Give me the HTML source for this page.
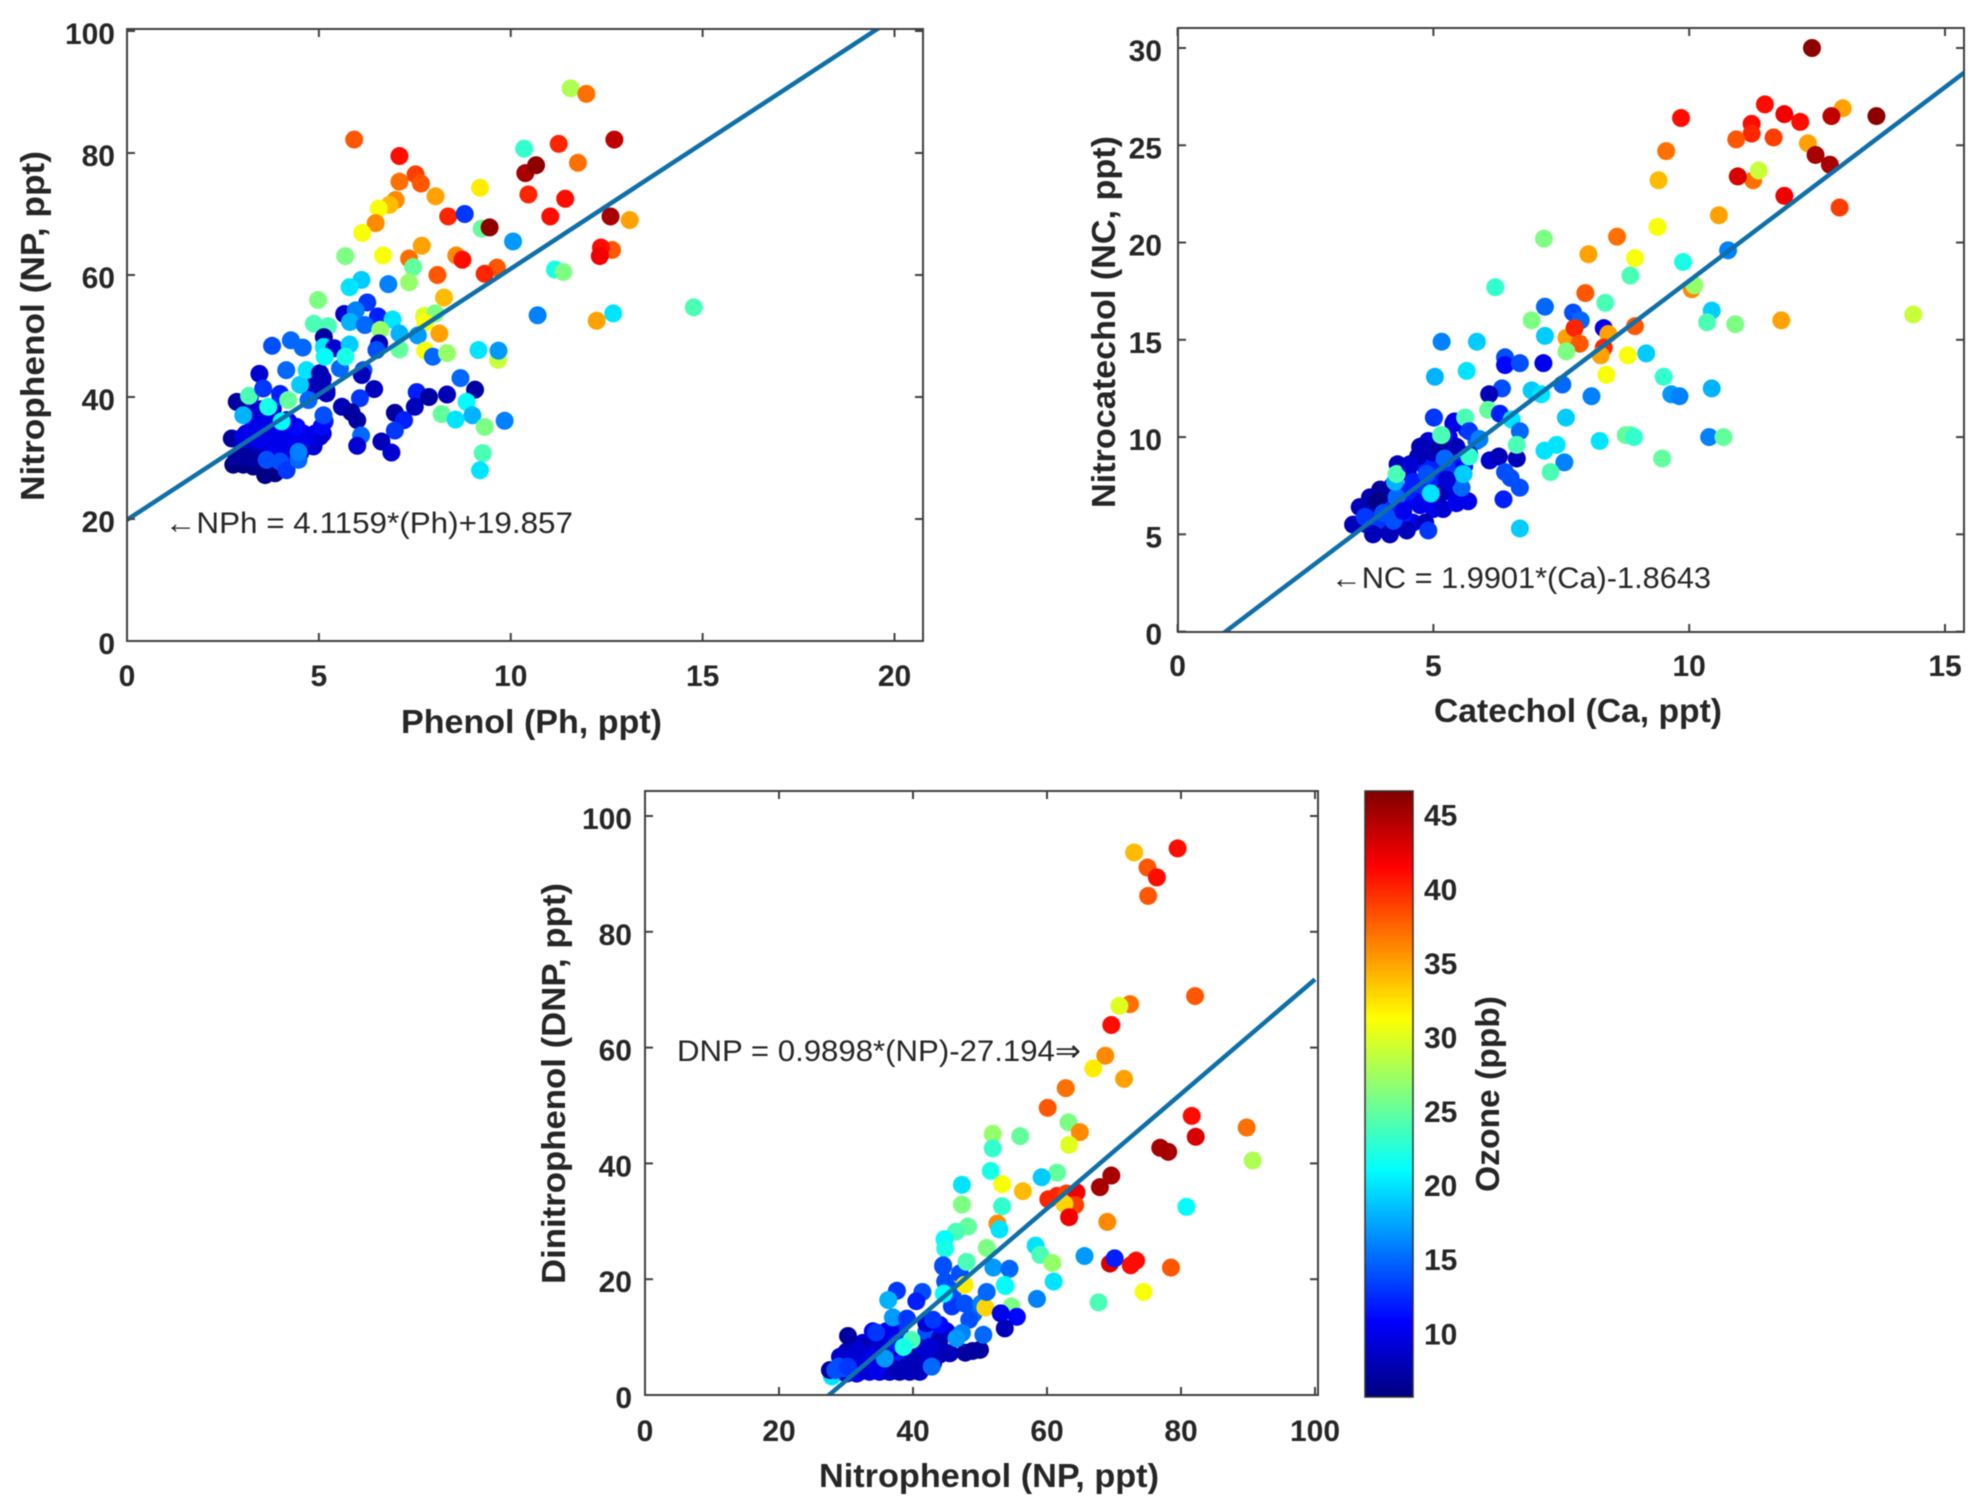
<!DOCTYPE html>
<html lang="en">
<head>
<meta charset="utf-8">
<title>Nitroaromatic scatter plots coloured by ozone</title>
<style>
html,body{margin:0;padding:0;background:#fff;width:1976px;height:1496px;overflow:hidden}
svg{display:block;font-family:"Liberation Sans",Arial,sans-serif;filter:blur(0.5px)}
.title{font-weight:bold;font-size:33px;fill:#262626}
.note{font-size:30px;fill:#262626}
</style>
</head>
<body>
<svg id="figure" xmlns="http://www.w3.org/2000/svg" width="1976" height="1496" viewBox="0 0 1976 1496">
  <rect width="1976" height="1496" fill="#fff"/>
  <defs>
    <linearGradient id="jetGrad" x1="0" y1="1" x2="0" y2="0"></linearGradient>
    <clipPath id="clip1"><rect x="127" y="29" width="796" height="612"/></clipPath>
    <clipPath id="clip2"><rect x="1178" y="28" width="786" height="604"/></clipPath>
    <clipPath id="clip3"><rect x="645" y="791" width="673" height="604"/></clipPath>
  </defs>
  <g id="panel1"></g>
  <g id="panel2"></g>
  <g id="panel3"></g>
  <g id="colorbar"></g>

  <text class="title" x="401" y="733" textLength="261" lengthAdjust="spacingAndGlyphs">Phenol (Ph, ppt)</text>
  <text class="title" transform="translate(44,501) rotate(-90)" textLength="350" lengthAdjust="spacingAndGlyphs">Nitrophenol  (NP, ppt)</text>
  <text class="note" x="165" y="533" textLength="408" lengthAdjust="spacingAndGlyphs">←NPh = 4.1159*(Ph)+19.857</text>

  <text class="title" x="1434" y="722" textLength="288" lengthAdjust="spacingAndGlyphs">Catechol (Ca, ppt)</text>
  <text class="title" transform="translate(1115,508) rotate(-90)" textLength="372" lengthAdjust="spacingAndGlyphs">Nitrocatechol  (NC, ppt)</text>
  <text class="note" x="1331" y="588" textLength="380" lengthAdjust="spacingAndGlyphs">←NC = 1.9901*(Ca)-1.8643</text>

  <text class="title" x="819" y="1487" textLength="340" lengthAdjust="spacingAndGlyphs">Nitrophenol (NP, ppt)</text>
  <text class="title" transform="translate(565,1284) rotate(-90)" textLength="401" lengthAdjust="spacingAndGlyphs">Dinitrophenol  (DNP, ppt)</text>
  <text class="note" x="677" y="1061" textLength="404" lengthAdjust="spacingAndGlyphs">DNP = 0.9898*(NP)-27.194⇒</text>

  <text class="title" transform="translate(1499,1192) rotate(-90)" textLength="196" lengthAdjust="spacingAndGlyphs">Ozone (ppb)</text>
</svg>
<script>
// ---------- Panel 1: phenol vs nitrophenol ----------
const p1Phenol = [
3.1,3.4,3.7,4.0,4.3,4.6,4.9,5.1,
3.0,3.3,3.6,3.9,4.2,4.5,4.8,
2.95,3.25,3.55,3.85,4.15,
3.3,3.6,3.9,4.2,5.15,
3.2,3.5,3.8,
4.9,5.2,4.8,5.1,
3.2,4.0,
2.73,2.77,3.03,3.29,3.6,3.86,2.86,3.12,3.38,3.64,
2.86,3.45,3.38,3.03,3.29,3.47,3.73,3.99,4.25,4.51,
4.86,5.03,5.07,5.12,4.68,4.42,3.64,3.9,4.16,3.81,
4.16,4.51,3.64,3.99,4.16,4.47,4.47,3.03,3.18,3.68,
4.03,3.55,3.99,4.2,4.51,4.68,5.03,4.99,4.73,5.2,
5.55,6.16,6.12,
5.92,7.1,11.56,11.97,12.7,10.35,11.25,11.75,10.38,10.66,
7.52,7.1,7.66,9.2,8.04,10.46,11.42,7,6.84,6.56,
11.03,8.37,8.8,12.6,13.1,9.24,9.45,6.48,6.13,10.06,
7.68,6.67,5.69,7.35,8.58,8.74,12.64,12.35,12.32,9.64,
9.32,8.09,7.46,7.35,11.15,11.37,6.81,6.11,5.8,4.98,
8.26,6.26,5.66,6.54,5.96,10.7,12.24,12.67,14.77,4.87,
5.24,5.81,6.2,6.92,7.74,8.03,7.77,6.6,7.1,7.58,
8.14,6.57,3.78,4.27,4.58,5.13,5.13,5.4,5.8,6.5,
7.1,7.77,7.97,8.34,9.16,9.67,9.68,5.15,5.69,4.15,
6.44,7.55,7.87,8.34,8.69,9.07,6.07,5.6,5.85,6,
6.98,7.5,8.85,8.2,9,8.56,9.84,7.22,6.98,9.32,
6.1,6,6.63,6.89,9.27,9.2
];
const p1Nitrophenol = [
34,34,34,34,34,34,34,34,
32,32,32,32,32,32,32,
30,30,30,30,30,
36,36,36,36,36,
38,38,38,
41,41,43,43,
40,40,
33.2,28.9,28.9,28.6,27.2,27.5,30.2,30.2,29.7,28.3,
39.2,43.8,37,33.5,35.1,33,32.4,32.4,33,32.4,
31.9,33.5,35.1,37,33.5,35.1,35.7,35.7,36.2,31.3,
30.8,30.8,29.7,29.4,28,29.7,31,37,40.2,38.4,
36,41.4,40.5,39.5,42,44.4,43.9,42.2,39.5,40.6,
44.7,44.4,43.6,
82.2,79.5,90.6,89.7,82.2,80.7,81.5,78.4,76.7,78,
76.5,75.3,75,74.3,72.9,73.2,72.5,72.3,71.5,70.9,
69.6,69.6,70,69.6,69,67.6,67.8,68.5,66.9,65.5,
64.8,63.2,63.1,62.7,63.2,62.5,64.1,64.5,63.1,61.2,
60.2,60,61.3,58.8,60.9,60.5,58.5,59.2,58,55.9,
56.3,55.5,53.6,53.2,54.2,53.4,52.5,53.7,54.7,52,
51.6,52.3,51.8,52.7,53.3,53.7,52.2,51,50.4,50.1,
50.4,48.8,48.4,49.3,48.1,49.8,48.2,48,48.6,47.7,
47.8,47.6,46.6,47.2,47.7,46.1,47.6,46.6,46.6,44.4,
41.3,40.8,40,40.4,43.1,41.2,39.8,38.4,37.5,36.2,
37.4,38.4,39.2,37.2,37,36.3,36.1,36.2,34.5,35.1,
33.7,32,32.7,30.9,30.8,28
];
const p1Ozone = [
10,10,9,10,10,11,10,9,
8,9,9,10,10,10,9,
7,7,8,10,11,
9,10,10,10,12,
8,9,10,
8,8,8,8,
10,13,
7,6,6,6,6,6,7,7,7,6,
7,9,9,10,10,10,10,10,10,10,
9,9,11,14,10,11,10,10,10,10,
10,10,14,14,13,15,16,18,24,22,
21,13,12,25,19,20,8,8,15,8,
15,14,8,
38,41,28,37,44,23,40,37,45,46,
39,37,38,32,35,40,41,36,34,31,
41,40,13,45,35,25,46,36,31,17,
35,31,26,37,36,41,38,41,42,38,
40,38,25,27,22,26,16,19,20,26,
34,13,9,12,16,16,35,20,24,24,
24,18,15,20,30,26,31,27,18,17,
35,8,14,15,15,7,20,9,19,14,
25,31,15,27,20,29,17,21,22,15,
8,12,7,8,15,7,13,8,7,7,
7,8,21,25,18,20,16,12,13,26,
15,9,8,9,24,20
];
const p1XTicks = [0,5,10,15,20];
const p1YTicks = [0,20,40,60,80,100];
const p1FitSlope = 4.1159;
const p1FitIntercept = 19.857;

// ---------- Panel 2: catechol vs nitrocatechol ----------
const p2Catechol = [
3.7,4,4.3,4.6,3.8,4.1,4.4,4.7,5,5.3,
4,4.2,4.5,4.8,5.1,5.4,4.5,4.8,5,5.3,
4.7,5,5.3,5.5,4.9,5.3,4.4,3.9,4.2,5,
5.5,4.3,5.6,
3.43,3.56,3.76,3.96,3.89,3.82,4.15,4.48,4.22,4.02,
3.66,4.28,4.25,4.28,4.54,4.74,4.61,4.87,5.23,5.19,
5.45,5.68,5.55,5.58,4.95,4.74,4.41,5.13,5.26,5.13,
5.45,5.84,5.7,5.65,5.39,5.62,5.16,5.01,4.84,4.9,
12.4,13.66,13,12.78,11.48,11.86,12.17,11.22,11.22,9.84,
11.65,10.92,12.32,9.55,12.47,12.75,11.25,11.36,10.95,9.4,
11.86,12.94,10.58,9.38,7.16,8.59,8.03,8.94,10.76,9.88,
8.85,10.05,10.1,6.21,7.97,8.36,7.18,6.92,7.73,7.88,
10.44,10.35,10.9,11.8,14.38,8.33,7.6,7.76,7.86,8.94,
8.42,7.18,5.16,5.85,8.33,8.27,7.6,8.8,9.16,6.4,
6.4,6.69,7.15,5.65,5.03,8.38,9.5,7.52,9.65,9.81,
10.44,6.92,7.11,6.34,6.09,8.09,6.07,5.01,5.41,5.62,
6.3,6.53,7.59,5.7,6.69,5.15,5.9,8.76,8.85,8.92,
10.39,10.67,8.25,7.41,7.17,6.63,6.63,4.76,9.47,7.56,
7.29,6.1,6.28,5.7,5.22,5.59,6.4,6.51,6.69,6.37,
4.95,6.69
];
const p2Nitrocatechol = [
5.5,5.4,5.5,5.6,6,6.4,6.5,6.9,6.9,7.2,
7,7.5,7.2,7.5,7.8,8,8.2,8.6,8.3,8.5,
9,9.2,9.3,9,9.8,10,6,5.7,6.3,6.3,
7,8.6,8.5,
5.5,6.4,6.9,7.3,6.7,5,5,5.2,5.7,6.1,
5.9,6.9,7.7,8.1,8.6,9.5,7.7,8.1,8.9,6.3,
6.6,6.7,7.4,8.1,7.1,6.5,6.2,7.1,7.8,9.5,
9.5,9.8,9.1,10.4,10.7,11,10.1,11,5.6,5.2,
30,26.5,26.9,26.5,27.1,26.6,26.2,26.1,25.6,26.4,
25.4,25.3,25.1,24.7,24.5,24,23.2,23.7,23.4,23.2,
22.4,21.8,21.4,20.8,20.2,20.3,19.4,19.2,19.6,19,
18.3,17.6,17.8,17.7,17.4,16.9,16.7,16,16.4,16,
16.5,15.9,15.8,16,16.3,15.6,15.1,15.6,14.8,15.7,
15.3,15.2,14.9,14.9,14.6,14.2,14.4,14.2,14.3,14.1,
13.7,13.8,13.8,13.4,13.1,13.2,13.1,12.7,12.2,12.1,
12.5,12.4,12.2,12.5,12.2,12.1,11.4,11,10.8,11,
11.2,10.9,11,10.3,10.3,10.1,9.9,10.1,10.1,10,
10,10,9.8,9.6,9.3,8.9,9.6,9.5,8.9,8.7,
8.2,8.8,9,9,8.9,8.1,8.2,7.9,7.4,6.8,
7.1,5.3
];
const p2Ozone = [
9,9,10,10,9,10,11,11,10,10,
7,9,12,13,12,9,9,12,12,13,
8,8,9,12,9,10,12,13,13,10,
9,8,11,
8,8,8,7,6,8,8,8,14,14,
13,15,18,24,9,7,12,14,14,9,
10,10,15,20,22,10,10,8,9,7,
8,15,9,12,9,24,24,14,8,13,
46,46,35,44,41,42,41,41,40,41,
39,38,35,37,45,45,37,29,43,34,
42,39,35,31,26,37,35,31,16,22,
24,36,27,23,38,24,15,26,14,15,
19,24,26,35,29,10,35,40,38,38,
35,19,16,19,40,35,26,31,19,14,
11,14,10,20,18,31,23,15,17,16,
18,19,20,14,8,16,25,13,10,24,
12,20,19,13,15,24,16,25,25,23,
16,25,20,20,20,8,24,8,25,16,
24,9,8,23,15,19,14,14,14,12,
20,19
];
const p2XTicks = [0,5,10,15];
const p2YTicks = [0,5,10,15,20,25,30];
const p2FitSlope = 1.9901;
const p2FitIntercept = -1.8643;

// ---------- Panel 3: nitrophenol vs dinitrophenol ----------
const p3Nitrophenol = [
29,30,32,33.5,35,36.5,38,39.5,41,
29.5,31,32.5,34,35.5,37,38.5,40,41.5,43,
31,32.5,34,36,38,40,42,44,
32.5,34,37,39,41,43,
34,36,38,42,45,
46,47,49,
28.5,29.5,
27.9,50,48.9,47.8,45.5,44,44,42.5,41,40,
39,37.6,40.6,36.6,33.1,32.1,30.1,29.1,27.6,30.1,
31.6,33.1,34.6,35,36.6,35,36.6,37.6,33.6,31.6,
28.9,29.6,28.4,30.3,42,44,43,35.8,42.8,39.8,
38.6,30.3,34.5,37,39.1,37.6,36.3,41.4,40.5,44.5,
44.8,45.8,44.6,47.7,50.2,50.8,51,53.8,54.7,53.1,
55.5,53.7,58.5,48.4,47.3,46.5,50.5,
79.5,73,75,76.4,75.1,82.1,72.4,70.8,69.6,68.7,
66.9,71.5,62.8,60.1,81.6,63.2,64.9,89.8,82.2,51.9,
56,51.9,63.3,76.9,78.1,90.7,51.6,61.5,59.2,69.6,
67.9,47.3,53.3,56.4,60.2,61.5,62.9,64.4,64.2,62.6,
63.3,47.3,53.3,80.8,69,52.6,52.9,48.2,46.4,44.7,
44.8,51,58.3,59,60.8,65.6,69.4,70.1,72.5,73.3,
78.5,74.4,67.7,61,47.7,52,54.4,53.7,44.5,48
];
const p3Dinitrophenol = [
4,4,4,4,4,4,4,4,4,
5.5,5.5,5.5,5.5,5.5,5.5,5.5,5.5,5.5,5.5,
7,7,7,7,7,7,7,7,
9,9,9,9,9,9,
11,11,11,11,11,
18,21,14,
4.5,5.5,
3.2,7.8,7.6,7.3,7.2,8.3,9.8,8.3,7.2,6,
4.9,4.3,4.3,4.9,8.3,6.6,7.5,6.6,4.3,3.7,
3.7,4.3,4.3,6,7.8,8.9,11.2,8.9,6.6,7.8,
4.9,4.6,4.3,4.9,12.4,12.1,13,6.3,4.9,9.5,
8.3,10.2,10.8,13.4,13.2,18,16.4,17.8,16.2,22.2,
19.6,15.3,17.5,15.8,15.8,15.1,17.8,18.8,15.3,14.1,
13.5,11.5,16.6,13,10.7,9.8,10.4,
94.4,93.7,91.1,89.4,86.2,68.9,67.5,67.2,63.9,58.6,
56.4,54.6,53,49.6,48.2,47.1,45.4,46.2,44.6,45.1,
44.7,42.6,43.2,42.7,42,40.5,38.7,38.4,37.6,37.9,
35.9,36.3,36.4,35.2,33.8,34.4,34.8,35,32.8,33,
30.7,32.9,32.6,32.5,29.9,29.6,28.6,29.1,28.2,26.9,
25.3,25.4,25.8,24.2,22.8,24,22.7,23.6,22.4,23.2,
22,17.8,16,19.6,19,22,21.8,19,22.4,23
];
const p3Ozone = [
12,13,11,10,9,9,8,8,9,
13,13,11,11,9,9,10,9,9,8,
8,10,10,12,12,9,9,8,
9,10,12,13,9,9,
11,11,13,14,9,
14,14,15,
14,14,
20,7,7,7,8,8,8,9,9,8,
8,8,8,8,8,9,8,9,7,9,
10,9,10,10,9,9,10,12,10,9,
14,14,14,13,9,11,13,17,15,24,
22,7,13,17,13,13,18,14,12,14,
14,13,21,14,16,33,15,22,26,10,
11,8,16,14,16,17,15,
41,34,38,41,38,38,37,30,41,36,
32,35,37,38,41,26,36,37,43,27,
25,23,30,45,45,28,22,25,19,45,
45,20,31,34,40,40,39,42,39,33,
42,26,23,21,36,36,20,25,24,21,
22,26,20,24,27,17,43,12,41,41,
38,31,24,20,32,17,15,21,14,24
];
const p3XTicks = [0,20,40,60,80,100];
const p3YTicks = [0,20,40,60,80,100];
const p3FitSlope = 0.9898;
const p3FitIntercept = -27.194;

// ---------- Colour bar ----------
const ozoneMin = 5.7;
const ozoneMax = 46.6;
const colorbarTicks = [10,15,20,25,30,35,40,45];

const NS = 'http://www.w3.org/2000/svg';
const AXIS_COLOR = '#404040';
const MARKER_RADIUS = 9;

function clamp01(v){ return Math.max(0, Math.min(1, v)); }
function jet(t){
  const r = clamp01(1.5 - Math.abs(4*t - 3));
  const g = clamp01(1.5 - Math.abs(4*t - 2));
  const b = clamp01(1.5 - Math.abs(4*t - 1));
  return 'rgb(' + Math.round(r*255) + ',' + Math.round(g*255) + ',' + Math.round(b*255) + ')';
}
function ozoneColor(v){ return jet(clamp01((v - ozoneMin) / (ozoneMax - ozoneMin))); }
function linearScale(d0, d1, r0, r1){ return function(v){ return r0 + (v - d0) * (r1 - r0) / (d1 - d0); }; }
function make(tag, props, parent){
  const el = document.createElementNS(NS, tag);
  for (const k in props) el.setAttribute(k, props[k]);
  parent.appendChild(el);
  return el;
}

function drawPanel(cfg){
  const g = document.getElementById(cfg.id);
  const sx = cfg.sx, sy = cfg.sy, box = cfg.box;

  const marks = make('g', {'clip-path': 'url(#' + cfg.clip + ')'}, g);
  
  
  const n = Math.min(cfg.xs.length, cfg.ys.length, cfg.os.length);
  for (let i = 0; i < n; i++){
    const c = make('circle', {cx: sx(cfg.xs[i]), cy: sy(cfg.ys[i]), r: MARKER_RADIUS, fill: ozoneColor(cfg.os[i])}, marks);
    
    
  }

  const xa = cfg.fitXStart, xb = cfg.fitXEnd;
  const fit = make('line', {
    x1: sx(xa), y1: sy(cfg.slope * xa + cfg.intercept),
    x2: sx(xb), y2: sy(cfg.slope * xb + cfg.intercept),
    stroke: '#0f6fa8', 'stroke-width': 4.5, 'clip-path': 'url(#' + cfg.clip + ')'
  }, g);
  
  

  const frame = make('rect', {x: box.l, y: box.t, width: box.r - box.l, height: box.b - box.t, fill: 'none', stroke: AXIS_COLOR, 'stroke-width': 2}, g);
  
  

  cfg.xTicks.forEach(function(v){
    const x = sx(v);
    make('line', {x1: x, x2: x, y1: box.b, y2: box.b - 8, stroke: AXIS_COLOR, 'stroke-width': 2}, g);
    make('line', {x1: x, x2: x, y1: box.t, y2: box.t + 8, stroke: AXIS_COLOR, 'stroke-width': 2}, g);
    const t = make('text', {x: x, y: cfg.xLabelY, 'text-anchor': 'middle', 'font-weight': 'bold', 'font-size': 30, fill: '#262626'}, g);
    t.textContent = String(v);
    
    
  });
  cfg.yTicks.forEach(function(v){
    const y = sy(v);
    make('line', {x1: box.l, x2: box.l + 8, y1: y, y2: y, stroke: AXIS_COLOR, 'stroke-width': 2}, g);
    make('line', {x1: box.r, x2: box.r - 8, y1: y, y2: y, stroke: AXIS_COLOR, 'stroke-width': 2}, g);
    const t = make('text', {x: cfg.yLabelX, y: y + 13, 'text-anchor': 'end', 'font-weight': 'bold', 'font-size': 30, fill: '#262626'}, g);
    t.textContent = String(v);
    
    
  });
}

drawPanel({
  id: 'panel1', clip: 'clip1',
  xs: p1Phenol, ys: p1Nitrophenol, os: p1Ozone,
  sx: linearScale(0, 20, 127, 894.5), sy: linearScale(0, 100, 641, 31),
  box: {l: 127, r: 923, t: 29, b: 641},
  xTicks: p1XTicks, yTicks: p1YTicks,
  slope: p1FitSlope, intercept: p1FitIntercept, fitXStart: 0, fitXEnd: 20.8,
  xLabelY: 686, yLabelX: 115
});
drawPanel({
  id: 'panel2', clip: 'clip2',
  xs: p2Catechol, ys: p2Nitrocatechol, os: p2Ozone,
  sx: linearScale(0, 15, 1177.6, 1945), sy: linearScale(0, 30, 631.6, 48),
  box: {l: 1178, r: 1964, t: 28, b: 632},
  xTicks: p2XTicks, yTicks: p2YTicks,
  slope: p2FitSlope, intercept: p2FitIntercept, fitXStart: 0, fitXEnd: 15.4,
  xLabelY: 676, yLabelX: 1162
});
drawPanel({
  id: 'panel3', clip: 'clip3',
  xs: p3Nitrophenol, ys: p3Dinitrophenol, os: p3Ozone,
  sx: linearScale(0, 100, 645, 1315), sy: linearScale(0, 100, 1395, 816),
  box: {l: 645, r: 1318, t: 791, b: 1395},
  xTicks: p3XTicks, yTicks: p3YTicks,
  slope: p3FitSlope, intercept: p3FitIntercept, fitXStart: 0, fitXEnd: 100,
  xLabelY: 1441, yLabelX: 632
});

(function drawColorbar(){
  const grad = document.getElementById('jetGrad');
  for (let i = 0; i <= 32; i++){
    make('stop', {offset: (i / 32), 'stop-color': jet(i / 32)}, grad);
  }
  const g = document.getElementById('colorbar');
  const top = 791, bottom = 1397, left = 1365, right = 1413;
  const sy = linearScale(ozoneMin, ozoneMax, bottom, top);
  const bar = make('rect', {x: left, y: top, width: right - left, height: bottom - top, fill: 'url(#jetGrad)', stroke: '#303030', 'stroke-width': 1.5}, g);
  
  
  colorbarTicks.forEach(function(v){
    const y = sy(v);
    const t = make('text', {x: 1424, y: y + 11, 'font-weight': 'bold', 'font-size': 30, fill: '#262626'}, g);
    t.textContent = String(v);
    
    
  });
})();
</script>
</body>
</html>
